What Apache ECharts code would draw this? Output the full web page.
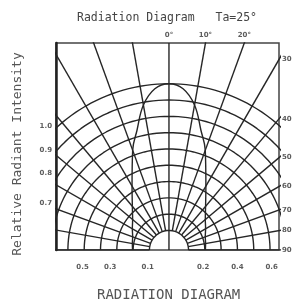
<!DOCTYPE html>
<html>
<head>
<meta charset="utf-8">
<script src="https://cdn.jsdelivr.net/npm/echarts@6/dist/echarts.min.js"></script>
<style>
  html, body { margin: 0; padding: 0; background: #fff; }
  #chart { width: 292px; height: 306px; }
</style>
</head>
<body>
<div id="chart"></div>
<script>
// radii of the concentric rings, in ring-spacing units (inner half circle + 9 rings)
const ringRadii = [1.2, 2.2, 3.2, 4.2, 5.2, 6.2, 7.2, 8.2, 9.2, 10.2];
// spokes, degrees from the vertical axis
const spokeAngles = [-90, -80, -70, -60, -50, -40, -30, -20, -10, 10, 20, 30, 40, 50, 60, 70, 80, 90];

// radiation pattern: angle vs relative intensity
const patternAngles = [-90, -80, -70, -60, -50, -40, -30, -20, -15, -10, -5, 0, 5, 10, 15, 20, 30, 40, 50, 60, 70, 80, 90];
const patternIntensity = [0.115, 0.12, 0.13, 0.155, 0.19, 0.255, 0.37, 0.59, 0.71, 0.87, 0.97, 1.0, 0.97, 0.87, 0.71, 0.59, 0.37, 0.255, 0.19, 0.155, 0.13, 0.12, 0.115];

// tick labels
const topLabels = ['0°', '10°', '20°'];
const topLabelAngles = [0, 10, 20];
const rightLabels = ['30°', '40°', '50°', '60°', '70°', '80°', '90°'];
const rightLabelAngles = [30, 40, 50, 60, 70, 80, 90];
const leftLabels = ['1.0', '0.9', '0.8', '0.7'];
const leftLabelValues = [7.6, 6.1, 4.7, 2.9];
const bottomLabels = ['0.5', '0.3', '0.1', '0.2', '0.4', '0.6'];
const bottomLabelValues = [-5.3, -3.6, -1.3, 2.1, 4.2, 6.3];

const xMin = -6.93, xMax = 6.75, yMax = 12.7;
const innerR = ringRadii[0], outerR = ringRadii[ringRadii.length - 1];
const rad = d => d * Math.PI / 180;
const pt = (r, a) => [r * Math.sin(rad(a)), r * Math.cos(rad(a))];

const lineColor = '#262626';
const lineWidth = 1.4;
const series = [];

ringRadii.forEach(r => {
  const pts = [];
  for (let a = -90; a <= 90; a += 2) pts.push(pt(r, a));
  series.push({ type: 'line', data: pts, showSymbol: false, silent: true,
    lineStyle: { color: lineColor, width: lineWidth } });
});

spokeAngles.forEach(a => {
  series.push({ type: 'line', data: [pt(innerR, a), pt(30, a)], showSymbol: false, silent: true,
    lineStyle: { color: lineColor, width: lineWidth } });
});
// centre line goes through the inner half circle
series.push({ type: 'line', data: [[0, 0], [0, yMax]], showSymbol: false, silent: true,
  lineStyle: { color: lineColor, width: lineWidth } });

series.push({
  type: 'line', smooth: 0.4, showSymbol: false, silent: true,
  data: patternAngles.map((a, i) => pt(innerR + (outerR - innerR) * patternIntensity[i], a)),
  lineStyle: { color: lineColor, width: lineWidth }
});

const labelStyle = { fontSize: 7, fontWeight: 'bold', color: '#333', fontFamily: 'DejaVu Sans' };
const labelSeries = (data, names, position, distance) => ({
  type: 'scatter', symbolSize: 0, clip: false, silent: true,
  data: data.map((d, i) => ({ value: d, name: names[i] })),
  label: Object.assign({ show: true, position: position, distance: distance, formatter: p => p.name }, labelStyle)
});
series.push(labelSeries(topLabelAngles.map(a => [yMax * Math.tan(rad(a)), yMax]), topLabels, 'top', 4));
series.push(labelSeries(rightLabelAngles.map(a => [xMax, a === 90 ? 0 : xMax / Math.tan(rad(a))]), rightLabels, 'right', 3));
series.push(labelSeries(leftLabelValues.map(v => [xMin, v]), leftLabels, 'left', 4));
series.push(labelSeries(bottomLabelValues.map(v => [v, 0]), bottomLabels, 'bottom', 14));

const chart = echarts.init(document.getElementById('chart'));
chart.setOption({
  animation: false,
  title: [
    { text: 'Radiation Diagram   Ta=25°', left: 72, top: 7,
      textStyle: { fontFamily: 'DejaVu Sans Mono', fontSize: 11.5, fontWeight: 'normal', color: '#444' } },
    { text: 'RADIATION DIAGRAM', left: 92, top: 283,
      textStyle: { fontFamily: 'DejaVu Sans Mono', fontSize: 14, fontWeight: 'normal', color: '#555' } }
  ],
  graphic: [{
    type: 'text', x: 18, y: 154, rotation: Math.PI / 2,
    style: { text: 'Relative Radiant Intensity', fontFamily: 'DejaVu Sans Mono', fontSize: 13,
      fill: '#555', align: 'center', verticalAlign: 'middle' }
  }],
  grid: { left: 56, right: 13, top: 43, bottom: 56, show: true, borderColor: '#444', borderWidth: 1.5 },
  xAxis: { type: 'value', min: xMin, max: xMax, axisLine: { show: false }, axisTick: { show: false },
    axisLabel: { show: false }, splitLine: { show: false } },
  yAxis: { type: 'value', min: 0, max: yMax,
    axisLine: { show: true, onZero: false, lineStyle: { color: '#222', width: 2.5 } }, axisTick: { show: false },
    axisLabel: { show: false }, splitLine: { show: false } },
  series: series
});
</script>
</body>
</html>
